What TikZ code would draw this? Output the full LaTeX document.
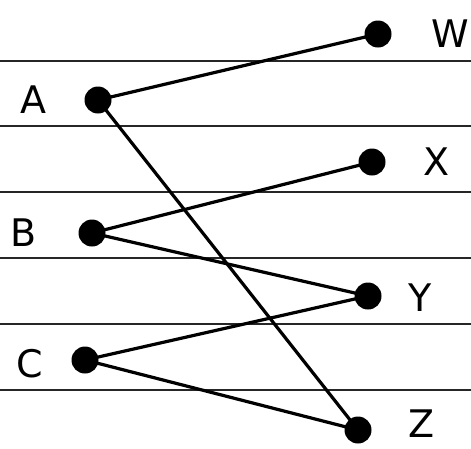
\documentclass[tikz,border=0pt]{standalone}
\usepackage{fontspec}
\setmainfont{DejaVu Sans}
\begin{document}
\begin{tikzpicture}[x=1pt,y=-1pt,
  dot/.style={circle,fill=black,inner sep=0pt,minimum size=27pt},
  lab/.style={font=\fontsize{38}{38}\selectfont,inner sep=0pt},
  rule/.style={line width=2pt,black!85},
  edge/.style={line width=3.2pt,line cap=round}]
\useasboundingbox (0,0) rectangle (471,448);
\fill[white] (0,0) rectangle (471,448);
% ruled lines
\foreach \yy in {61,126,192,258,324,390}
  \draw[rule] (0,\yy) -- (471,\yy);
% dots
\node[dot] (W) at (378,34) {};
\node[dot] (A) at (98,100) {};
\node[dot] (X) at (372,162) {};
\node[dot] (B) at (92,233) {};
\node[dot] (Y) at (368,296) {};
\node[dot] (C) at (85,360) {};
\node[dot] (Z) at (358,430) {};
% labels
\node[lab] (lW) at (450,34) {W};
\node[lab] (lA) at (33,100) {A};
\node[lab] (lX) at (437,162) {X};
\node[lab] (lB) at (24,233) {B};
\node[lab] (lY) at (420,298) {Y};
\node[lab] (lC) at (30,364) {C};
\node[lab] (lZ) at (422,424) {Z};
% edges
\draw[edge] (A.center) -- (W.center);
\draw[edge] (A.center) -- (Z.center);
\draw[edge] (B.center) -- (X.center);
\draw[edge] (B.center) -- (Y.center);
\draw[edge] (C.center) -- (Y.center);
\draw[edge] (C.center) -- (Z.center);
\end{tikzpicture}
\end{document}
